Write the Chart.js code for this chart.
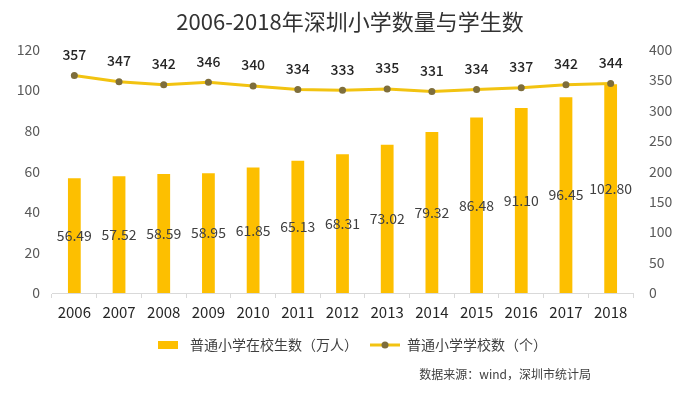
<!DOCTYPE html>
<html>
<head>
<meta charset="utf-8">
<script src="https://cdn.jsdelivr.net/npm/chart.js@4/dist/chart.umd.min.js"></script>
<style>
  html, body { margin: 0; padding: 0; background: #fff; }
  #wrap { width: 700px; height: 393px; }
</style>
</head>
<body>
<div id="wrap"><canvas id="myChart"></canvas></div>
<script>
// data
const years = ["2006", "2007", "2008", "2009", "2010", "2011", "2012", "2013", "2014", "2015", "2016", "2017", "2018"];
const students = [56.49, 57.52, 58.59, 58.95, 61.85, 65.13, 68.31, 73.02, 79.32, 86.48, 91.10, 96.45, 102.80];
const schools = [357, 347, 342, 346, 340, 334, 333, 335, 331, 334, 337, 342, 344];
const leftTicks = [0, 20, 40, 60, 80, 100, 120];
const rightTicks = [0, 50, 100, 150, 200, 250, 300, 350, 400];
const sourceNote = "数据来源：wind，深圳市统计局";

const FONT = "'Noto Sans CJK SC', 'Noto Sans', sans-serif";
const GOLD = "#FDBF00";
const LINE_GOLD = "#F2C311";
const MARKER = "#7E6E3C";

// small pictures for the legend swatches
function barSwatch() {
  const c = document.createElement("canvas");
  c.width = 20;
  c.height = 8;
  const g = c.getContext("2d");
  g.fillStyle = GOLD;
  g.fillRect(0, 0, 20, 8);
  return c;
}

function lineSwatch() {
  const c = document.createElement("canvas");
  c.width = 30;
  c.height = 10;
  const g = c.getContext("2d");
  g.strokeStyle = LINE_GOLD;
  g.lineWidth = 3;
  g.beginPath();
  g.moveTo(0, 5);
  g.lineTo(30, 5);
  g.stroke();
  g.fillStyle = MARKER;
  g.beginPath();
  g.arc(15, 5, 3.5, 0, Math.PI * 2);
  g.fill();
  return c;
}

// value labels: centred in bars, above the points; plus the source note
const valueLabels = {
  id: "valueLabels",
  afterDatasetsDraw(chart) {
    const ctx = chart.ctx;
    ctx.save();
    ctx.textAlign = "center";
    ctx.textBaseline = "middle";

    const bars = chart.getDatasetMeta(0).data;
    ctx.font = "14px " + FONT;
    ctx.fillStyle = "#404040";
    bars.forEach((bar, i) => {
      ctx.fillText(students[i].toFixed(2), bar.x, (bar.y + bar.base) / 2);
    });

    const points = chart.getDatasetMeta(1).data;
    ctx.font = "500 14px " + FONT;
    ctx.fillStyle = "#262626";
    points.forEach((pt, i) => {
      ctx.fillText(String(schools[i]), pt.x, pt.y - 21);
    });

    ctx.font = "12px " + FONT;
    ctx.fillStyle = "#404040";
    ctx.textAlign = "right";
    ctx.fillText(sourceNote, 591, 374);
    ctx.restore();
  }
};

function createChart() {
  const canvas = document.getElementById("myChart").getContext("2d");
  return new Chart(canvas, {
    data: {
      labels: years,
      datasets: [
        {
          type: "bar",
          label: "普通小学在校生数（万人）",
          data: students,
          backgroundColor: GOLD,
          borderWidth: 0,
          barPercentage: 0.55,
          categoryPercentage: 0.52,
          yAxisID: "y",
          order: 2,
        },
        {
          type: "line",
          label: "普通小学学校数（个）",
          data: schools,
          borderColor: LINE_GOLD,
          borderWidth: 3,
          pointBackgroundColor: MARKER,
          pointBorderWidth: 0,
          pointRadius: 3.5,
          tension: 0,
          yAxisID: "y1",
          order: 1,
        },
      ],
    },
    options: {
      responsive: true,
      maintainAspectRatio: false,
      animation: false,
      layout: { padding: { left: 0, right: 0, top: 6, bottom: 31 } },
      plugins: {
        tooltip: { enabled: false },
        title: {
          display: true,
          text: "2006-2018年深圳小学数量与学生数",
          color: "#333333",
          font: { family: FONT, size: 22, weight: "normal" },
          padding: { top: 2, bottom: 15 },
        },
        legend: {
          position: "bottom",
          labels: {
            usePointStyle: true,
            pointStyleWidth: 30,
            boxHeight: 10,
            padding: 12,
            color: "#404040",
            font: { family: FONT, size: 14 },
            sort: (a, b) => a.datasetIndex - b.datasetIndex,
            generateLabels(chart) {
              const items = Chart.defaults.plugins.legend.labels.generateLabels(chart);
              items.forEach((item) => {
                item.pointStyle = item.datasetIndex === 0 ? barSwatch() : lineSwatch();
              });
              return items;
            },
          },
        },
      },
      scales: {
        x: {
          offset: true,
          grid: {
            offset: true,
            drawOnChartArea: false,
            drawTicks: true,
            tickLength: 5,
            color: "#d9d9d9",
          },
          border: { display: true, color: "#d9d9d9" },
          ticks: {
            color: "#262626",
            font: { family: FONT, size: 15 },
            padding: 5,
            maxRotation: 0,
          },
        },
        y: {
          position: "left",
          min: 0,
          max: 120,
          afterBuildTicks: (axis) => { axis.ticks = leftTicks.map((v) => ({ value: v })); },
          afterFit: (axis) => { axis.width = 52; },
          grid: { display: false },
          border: { display: false },
          ticks: {
            color: "#595959",
            font: { family: FONT, size: 14 },
            padding: 4,
          },
        },
        y1: {
          position: "right",
          min: 0,
          max: 400,
          afterBuildTicks: (axis) => { axis.ticks = rightTicks.map((v) => ({ value: v })); },
          afterFit: (axis) => { axis.width = 67; },
          grid: { display: false },
          border: { display: false },
          ticks: {
            color: "#595959",
            font: { family: FONT, size: 14 },
            padding: 8,
          },
        },
      },
    },
    plugins: [valueLabels],
  });
}

createChart();
</script>
</body>
</html>
